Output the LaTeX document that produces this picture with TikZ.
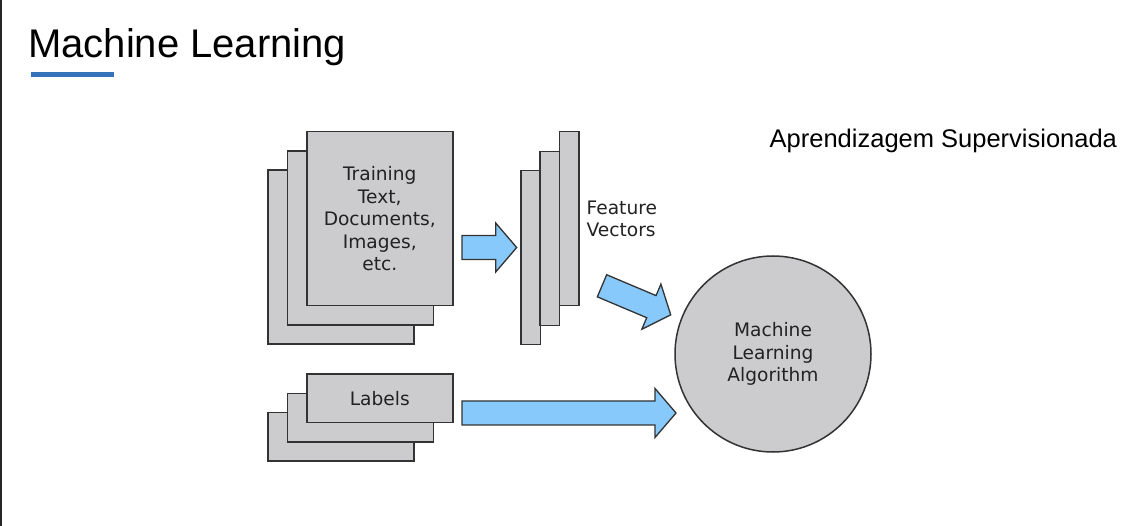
\documentclass[tikz,border=0pt]{standalone}
\usepackage{fontspec}
\setmainfont{Liberation Sans}
\newfontfamily\djv{DejaVu Sans}
\definecolor{cardfill}{RGB}{204,203,206}
\definecolor{cardline}{RGB}{51,51,51}
\definecolor{arrowfill}{RGB}{135,201,250}
\definecolor{txtc}{RGB}{34,34,34}
\definecolor{ulblue}{RGB}{52,114,186}
\newcommand\blockarrow[4]{%
  \begin{scope}[shift={(#1,#2)},rotate=#3]
    \draw[blockarr] (0,-12) -- ({#4-21},-12) -- ({#4-21},-24.5) -- (#4,0)
      -- ({#4-21},24.5) -- ({#4-21},12) -- (0,12) -- cycle;
  \end{scope}}
\begin{document}
\begin{tikzpicture}[x=1pt,y=-1pt,
  card/.style={draw=cardline, fill=cardfill, line width=1.5pt, rectangle,
    inner sep=0pt, anchor=north west, minimum width=146pt, minimum height=174pt,
    font=\djv\fontsize{18.6}{22.5}\selectfont, text=txtc, align=center},
  vec/.style={card, minimum width=19.5pt},
  lab/.style={card, minimum height=48.5pt},
  blockarr/.style={draw=cardline, fill=arrowfill, line width=1.3pt, line join=miter},
  dtext/.style={font=\djv\fontsize{18.6}{22.5}\selectfont, text=txtc, inner sep=0pt}]
\useasboundingbox (0,0) rectangle (1146,526);
\fill[white] (0,0) rectangle (1146,526);
\draw[line width=2pt, black!85] (1,0) -- (1,526);
% title
\node[anchor=base west, inner sep=0pt, font=\fontsize{40}{46}\selectfont] (title) at (28,57.5) {Machine Learning};
\fill[ulblue] (31,72) rectangle (114,77.5);
\node[anchor=base west, inner sep=0pt, font=\fontsize{25.5}{30}\selectfont] (sub) at (769.5,148) {Aprendizagem Supervisionada};
% training stack
\node[card] (t3) at (267.3,169.3) {};
\node[card] (t2) at (286.7,150.3) {};
\node[card] (t1) at (306,131) {Training\\Text,\\Documents,\\Images,\\etc.};
% feature vectors
\node[vec] (f3) at (520,170) {};
\node[vec] (f2) at (539.3,150.7) {};
\node[vec] (f1) at (558.7,131) {};
\node[dtext, align=left, anchor=west] (fv) at (586.5,218.7) {Feature\\Vectors};
% labels stack
\node[lab] (l3) at (267.3,411.7) {};
\node[lab] (l2) at (286.7,392.7) {};
\node[lab] (l1) at (306,373.3) {Labels};
% algorithm
\node[circle, draw=cardline, fill=cardfill, line width=1.5pt, minimum size=196pt,
  inner sep=0pt, align=center, font=\djv\fontsize{18.6}{22.5}\selectfont, text=txtc]
  (alg) at (773,354) {Machine\\Learning\\Algorithm};
% arrows
\blockarrow{462}{247.5}{0}{54.7}
\blockarrow{602}{285.8}{-22.9}{74.6}
\blockarrow{462}{413}{0}{214}
\end{tikzpicture}
\end{document}
